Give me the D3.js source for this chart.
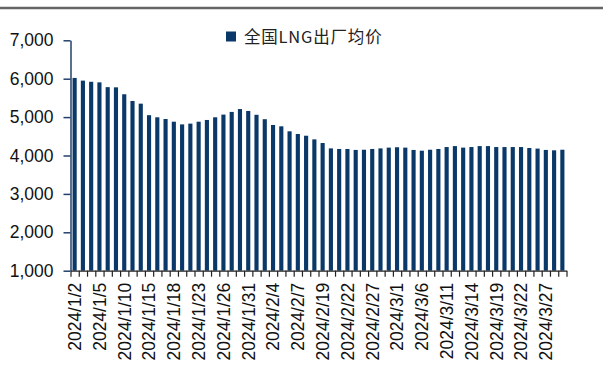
<!DOCTYPE html>
<html>
<head>
<meta charset="utf-8">
<script src="https://cdn.jsdelivr.net/npm/d3@7"></script>
<style>
  body { margin: 0; background: #fff; }
  svg { display: block; }
</style>
</head>
<body>
<div id="chart"></div>
<script>
// trading days shown on the chart
let dates = ["2024/1/2","2024/1/3","2024/1/4","2024/1/5","2024/1/8","2024/1/9","2024/1/10","2024/1/11","2024/1/12","2024/1/15",
  "2024/1/16","2024/1/17","2024/1/18","2024/1/19","2024/1/22","2024/1/23","2024/1/24","2024/1/25","2024/1/26","2024/1/29",
  "2024/1/30","2024/1/31","2024/2/1","2024/2/2","2024/2/4","2024/2/5","2024/2/6","2024/2/7","2024/2/8","2024/2/18",
  "2024/2/19","2024/2/20","2024/2/21","2024/2/22","2024/2/23","2024/2/26","2024/2/27","2024/2/28","2024/2/29","2024/3/1",
  "2024/3/4","2024/3/5","2024/3/6","2024/3/7","2024/3/8","2024/3/11","2024/3/12","2024/3/13","2024/3/14","2024/3/15",
  "2024/3/18","2024/3/19","2024/3/20","2024/3/21","2024/3/22","2024/3/25","2024/3/26","2024/3/27","2024/3/28","2024/3/29"];

let prices = [6020,5950,5920,5905,5780,5775,5595,5420,5350,5050,
  4995,4950,4880,4810,4830,4880,4925,4995,5065,5135,
  5210,5160,5060,4945,4795,4760,4630,4560,4515,4420,
  4325,4185,4170,4170,4145,4150,4170,4185,4205,4215,
  4205,4145,4125,4150,4170,4220,4245,4205,4220,4245,
  4245,4220,4220,4220,4220,4195,4180,4145,4135,4150];

let labelDates = ["2024/1/2","2024/1/5","2024/1/10","2024/1/15","2024/1/18","2024/1/23","2024/1/26","2024/1/31",
  "2024/2/4","2024/2/7","2024/2/19","2024/2/22","2024/2/27","2024/3/1","2024/3/6","2024/3/11","2024/3/14",
  "2024/3/19","2024/3/22","2024/3/27"];

let yTicks = [1000,2000,3000,4000,5000,6000,7000];
let seriesName = "全国LNG出厂均价";

let width = 603, height = 385;
let barColor = "#0a3868";
let axisColor = "#23406a";
let font = "'Liberation Sans', Arial, sans-serif";

let svg = d3.select("#chart").append("svg")
  .attr("width", width)
  .attr("height", height);

// grey rule across the top
svg.append("line")
  .attr("x1", 0).attr("x2", width)
  .attr("y1", 8).attr("y2", 8)
  .attr("stroke", "#666")
  .attr("stroke-width", 2.5);

let x = d3.scaleBand()
  .domain(dates)
  .range([70.5, 566.5])
  .paddingInner(0.5)
  .paddingOuter(0.25);

let y = d3.scaleLinear()
  .domain([1000, 7000])
  .range([270.7, 40.3]);

// bars
svg.append("g").selectAll("rect")
  .data(prices)
  .enter()
  .append("rect")
  .attr("x", (d, i) => x(dates[i]))
  .attr("width", x.bandwidth())
  .attr("y", d => y(d))
  .attr("height", d => y(1000) - y(d))
  .attr("fill", barColor);

// x axis: a tick between every pair of bars
let slot = d3.scaleLinear().domain([0, dates.length]).range(x.range());
let xTicks = svg.append("g")
  .attr("transform", "translate(0," + y(1000) + ")")
  .call(d3.axisBottom(slot)
    .tickValues(d3.range(dates.length + 1))
    .tickFormat("")
    .tickSize(6)
    .tickSizeOuter(0));
xTicks.select(".domain").attr("stroke", "#222").attr("stroke-width", 1.3);
xTicks.selectAll(".tick line").attr("stroke", "#222").attr("stroke-width", 1.2);

// x labels, every third trading day
let xLabels = svg.append("g")
  .attr("transform", "translate(0," + y(1000) + ")")
  .call(d3.axisBottom(x).tickValues(labelDates).tickSize(0));
xLabels.select(".domain").remove();
xLabels.selectAll("text")
  .attr("transform", "rotate(-90)")
  .attr("x", -12)
  .attr("y", 0)
  .attr("dy", "0.36em")
  .style("text-anchor", "end")
  .style("font-family", font)
  .style("font-size", "17.5px")
  .attr("fill", "#111");

// y axis
let yAxis = svg.append("g")
  .attr("transform", "translate(70.5,0)")
  .call(d3.axisLeft(y)
    .tickValues(yTicks)
    .tickFormat(d3.format(","))
    .tickSize(7)
    .tickSizeOuter(0)
    .tickPadding(10));
yAxis.select(".domain").attr("stroke", axisColor).attr("stroke-width", 1.5);
yAxis.selectAll(".tick line").attr("stroke", axisColor).attr("stroke-width", 1.5);
yAxis.selectAll("text")
  .style("font-family", font)
  .style("font-size", "17.5px")
  .attr("fill", "#111");

// legend
let legend = svg.append("g").attr("transform", "translate(226,31.5)");
legend.append("rect")
  .attr("width", 10).attr("height", 10)
  .attr("fill", barColor);
legend.append("text")
  .attr("x", 18)
  .attr("y", 11)
  .style("font-family", "'Noto Sans CJK SC', sans-serif")
  .style("font-size", "16.5px")
  .style("letter-spacing", "0.8px")
  .attr("fill", "#222")
  .text(seriesName);
</script>
</body>
</html>
